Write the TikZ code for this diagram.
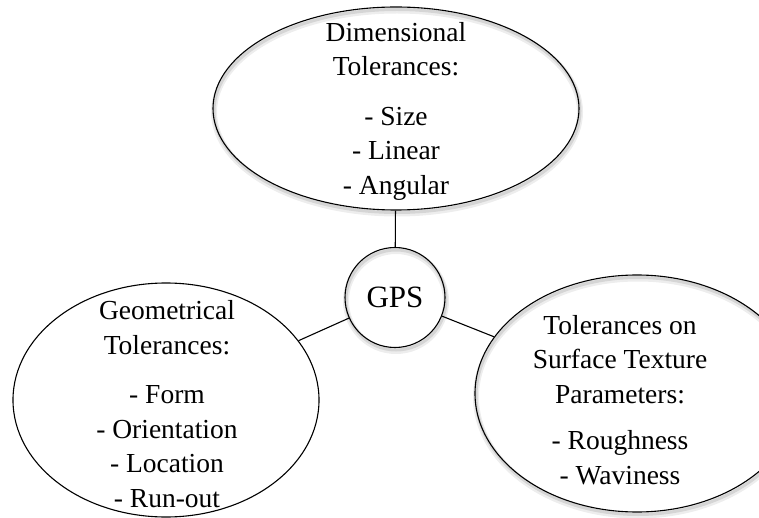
\documentclass[tikz,border=0pt]{standalone}
\usepackage{fontspec}
\setmainfont{Liberation Serif}
\usetikzlibrary{shapes.geometric}
\begin{document}
\begin{tikzpicture}[x=1pt,y=-1pt,
  outline/.style={draw=black, line width=1.1pt},
  softshadow/.style={
    preaction={draw=black, draw opacity=.07, line width=6pt, transform canvas={xshift=1pt,yshift=-3.5pt}},
    preaction={draw=black, draw opacity=.10, line width=3pt, transform canvas={xshift=1pt,yshift=-2.5pt}}},
  bubble/.style={ellipse, outline, inner sep=0pt},
  txt/.style={align=center, inner sep=0pt, font=\fontsize{27.5}{34.5}\selectfont},
  connector/.style={draw=black, line width=1.1pt}]
\clip (0,0) rectangle (759,518);
% shapes
\node[bubble, softshadow, minimum width=366pt, minimum height=203pt] (dim) at (396,108.5) {};
\node[bubble, minimum width=306pt, minimum height=234pt] (geo) at (166,400) {};
\node[bubble, softshadow, minimum width=324pt, minimum height=237pt] (surf) at (637,393.5) {};
\node[circle, outline, softshadow, minimum size=100pt, inner sep=0pt,
      font=\fontsize{31}{36}\selectfont] (gps) at (395,297.5) {GPS};
% texts
\node[txt] (dimtext) at (396,111) {Dimensional\\Tolerances:\\[15pt]- Size\\- Linear\\- Angular};
\node[txt] (geotext) at (167,404) {Geometrical\\Tolerances:\\[15pt]- Form\\- Orientation\\- Location\\- Run-out};
\node[txt] (surftext) at (620,400) {Tolerances on\\Surface Texture\\Parameters:\\[12pt]- Roughness\\- Waviness};
% connectors
\draw[connector] (dim) -- (gps);
\draw[connector] (geo) -- (gps);
\draw[connector] (gps) -- (surf);
\end{tikzpicture}
\end{document}
